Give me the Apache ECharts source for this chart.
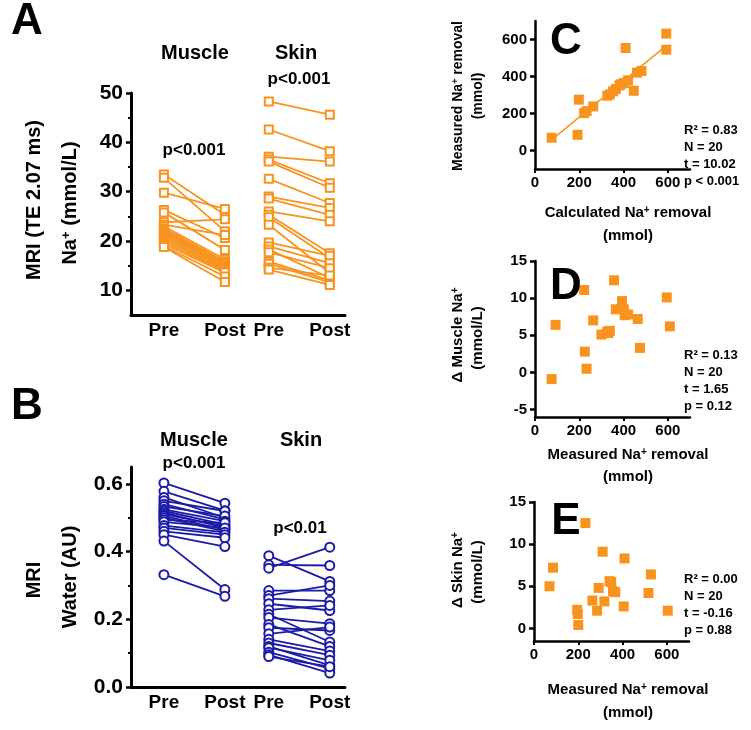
<!DOCTYPE html>
<html><head><meta charset="utf-8">
<script src="https://cdn.jsdelivr.net/npm/echarts@6/dist/echarts.min.js"></script>
<style>html,body{margin:0;padding:0;background:#fff}#c{width:751px;height:730px}</style>
</head><body><div id="c"></div>
<script>
// ---------- DATA ----------
const categories = ['Pre', 'Post', 'Pre', 'Post'];
const groups = ['Muscle', 'Skin'];
const naTicks = [10, 20, 30, 40, 50];
const naMinorTicks = [15, 25, 35, 45];
const waterTicks = [0, 0.2, 0.4, 0.6];
const waterMinorTicks = [0.1, 0.3, 0.5];
const removalTicks = [0, 200, 400, 600];
const removalYTicks = [0, 200, 400, 600];
const deltaMuscleTicks = [-5, 0, 5, 10, 15];
const deltaSkinTicks = [0, 5, 10, 15];

const muscleNaPre  = [33.5, 32.8, 29.8, 26.3, 25.8, 23.8, 23.3, 23.0, 22.6, 22.3, 22.0, 21.7, 21.4, 21.0, 20.6, 20.2, 19.8, 19.4, 19.0, 18.8];
const muscleNaPost = [25.3, 22.0, 26.5, 20.6, 18.2, 24.4, 21.2, 16.3, 15.9, 15.6, 15.4, 15.1, 14.9, 14.7, 14.4, 14.2, 13.9, 13.6, 12.8, 11.7];
const skinNaPre    = [48.3, 42.6, 37.1, 36.5, 36.1, 32.6, 29.0, 28.6, 26.0, 25.3, 24.8, 23.3, 19.7, 18.9, 18.3, 17.7, 15.8, 15.4, 14.6, 14.2];
const skinNaPost   = [45.6, 38.2, 36.1, 31.7, 30.8, 27.7, 26.7, 25.3, 24.0, 17.5, 16.5, 13.5, 17.0, 15.5, 12.5, 14.5, 12.0, 11.6, 13.0, 11.1];

const muscleWaterPre  = [0.603, 0.578, 0.56, 0.55, 0.54, 0.533, 0.525, 0.52, 0.515, 0.51, 0.505, 0.50, 0.494, 0.488, 0.477, 0.47, 0.46, 0.45, 0.431, 0.332];
const muscleWaterPost = [0.543, 0.521, 0.50, 0.52, 0.495, 0.505, 0.49, 0.48, 0.47, 0.475, 0.465, 0.46, 0.485, 0.47, 0.457, 0.45, 0.441, 0.415, 0.288, 0.268];
const skinWaterPre    = [0.388, 0.361, 0.351, 0.285, 0.27, 0.261, 0.246, 0.228, 0.215, 0.205, 0.185, 0.175, 0.157, 0.141, 0.13, 0.12, 0.116, 0.103, 0.095, 0.09];
const skinWaterPost   = [0.312, 0.359, 0.413, 0.285, 0.30, 0.254, 0.226, 0.241, 0.133, 0.187, 0.12, 0.167, 0.177, 0.106, 0.094, 0.064, 0.079, 0.054, 0.041, 0.06];

const calcRemoval  = [75, 192, 198, 222, 233, 263, 327, 338, 353, 365, 382, 387, 401, 420, 409, 446, 461, 481, 593, 593];
const measRemovalC = [69, 85, 275, 202, 213, 238, 296, 303, 320, 332, 352, 358, 365, 379, 554, 323, 421, 430, 545, 632];

const measRemovalD  = [75, 93, 222, 225, 233, 263, 300, 326, 331, 338, 357, 365, 393, 401, 405, 420, 464, 474, 595, 609];
const deltaMuscleNa = [-0.9, 6.4, 11.1, 2.8, 0.5, 7.0, 5.1, 5.5, 5.3, 5.6, 12.4, 8.5, 9.6, 8.5, 7.7, 7.8, 7.2, 3.3, 10.1, 6.2];

const measRemovalE = [70, 86, 232, 310, 409, 292, 341, 349, 357, 367, 264, 318, 405, 528, 517, 195, 198, 200, 285, 604];
const deltaSkinNa  = [5.0, 7.2, 12.5, 9.1, 8.3, 4.8, 5.6, 5.5, 4.4, 4.3, 3.3, 3.2, 2.6, 6.4, 4.2, 2.2, 1.7, 0.4, 2.1, 2.1];

const statsC = ['R² = 0.83', 'N = 20', 't = 10.02', 'p < 0.001'];
const statsD = ['R² = 0.13', 'N = 20', 't = 1.65', 'p = 0.12'];
const statsE = ['R² = 0.00', 'N = 20', 't = -0.16', 'p = 0.88'];
const pValues = { naMuscle: 'p<0.001', naSkin: 'p<0.001', waterMuscle: 'p<0.001', waterSkin: 'p<0.01' };

// ---------- LAYOUT / STYLE ----------
const FONT = '"Liberation Sans", Arial, sans-serif';
const ORANGE = '#f7931e';
const BLUE = '#1b1ba8';
const POS = [0, 1, 1.72, 2.72];   // horizontal placement of the four categories
const X_MIN = -0.54, X_MAX = 2.97;

const grids = [
  { left: 131, top: 93, width: 214, height: 222 },     // A
  { left: 131, top: 467, width: 214, height: 220 },    // B
  { left: 535, top: 21, width: 155, height: 148 },     // C
  { left: 535, top: 261, width: 155, height: 156 },    // D
  { left: 534, top: 502, width: 155, height: 139 }     // E
];

const blackLine = (w) => ({ show: true, onZero: false, lineStyle: { color: '#000', width: w } });
const lbl = (size, extra) => Object.assign({ color: '#000', fontFamily: FONT, fontWeight: 'bold', fontSize: size }, extra || {});

function catLabel(v) {
  for (let i = 0; i < POS.length; i++) if (Math.abs(POS[i] - v) < 0.01) return categories[i];
  return '';
}

function xRemoval(grid) {
  return { type: 'value', gridIndex: grid, min: 0, max: 700, axisLine: blackLine(2.5), splitLine: { show: false },
    axisTick: { customValues: removalTicks, length: 4, lineStyle: { width: 2, color: '#000' } },
    axisLabel: lbl(15, { customValues: removalTicks, margin: 6 }) };
}
const xAxis = [
  { type: 'value', gridIndex: 0, min: X_MIN, max: X_MAX, axisLine: blackLine(3), axisTick: { show: false }, splitLine: { show: false },
    axisLabel: lbl(19, { customValues: POS, formatter: catLabel, margin: 6 }) },
  { type: 'value', gridIndex: 1, min: X_MIN, max: X_MAX, axisLine: blackLine(3), axisTick: { show: false }, splitLine: { show: false },
    axisLabel: lbl(19, { customValues: POS, formatter: catLabel, margin: 6 }) },
  xRemoval(2), xRemoval(3), xRemoval(4)
];

function yMajor(grid, min, max, ticks, size, w, fmt) {
  return { type: 'value', gridIndex: grid, position: 'left', min: min, max: max, axisLine: blackLine(w), splitLine: { show: false },
    axisTick: { customValues: ticks, length: 5, lineStyle: { width: 2.5, color: '#000' } },
    axisLabel: lbl(size, { customValues: ticks, margin: 8, formatter: fmt }) };
}
function yMinor(grid, min, max, ticks) {
  return { type: 'value', gridIndex: grid, position: 'left', offset: 0, min: min, max: max,
    axisLine: { show: false, onZero: false }, splitLine: { show: false },
    axisTick: { customValues: ticks, length: 3, lineStyle: { width: 2, color: '#000' } }, axisLabel: { show: false } };
}

const yAxis = [
  yMajor(0, 5, 50, naTicks, 21, 3),
  yMinor(0, 5, 50, naMinorTicks),
  yMajor(1, 0, 0.65, waterTicks, 21, 3, v => v.toFixed(1)),
  yMinor(1, 0, 0.65, waterMinorTicks),
  yMajor(2, -100, 700, removalYTicks, 15, 2.5),
  yMajor(3, -6, 15, deltaMuscleTicks, 15, 2.5),
  yMajor(4, -1.5, 15, deltaSkinTicks, 15, 2.5)
];

const series = [];
function paired(xi, yi, pre, post, offset, color, symbol, size) {
  const pts = [];
  for (let i = 0; i < pre.length; i++) {
    series.push({ type: 'line', xAxisIndex: xi, yAxisIndex: yi, symbol: 'none', silent: true, z: 2,
      lineStyle: { color: color, width: 1.8 },
      data: [[POS[offset], pre[i]], [POS[offset + 1], post[i]]] });
    pts.push([POS[offset], pre[i]], [POS[offset + 1], post[i]]);
  }
  series.push({ type: 'scatter', xAxisIndex: xi, yAxisIndex: yi, symbol: symbol, symbolSize: size, z: 5,
    itemStyle: { color: '#fff', borderColor: color, borderWidth: 2, opacity: 1 }, data: pts });
}
paired(0, 0, muscleNaPre, muscleNaPost, 0, ORANGE, 'rect', 8);
paired(0, 0, skinNaPre, skinNaPost, 2, ORANGE, 'rect', 8);
paired(1, 2, muscleWaterPre, muscleWaterPost, 0, BLUE, 'circle', 9);
paired(1, 2, skinWaterPre, skinWaterPost, 2, BLUE, 'circle', 9);

function zip(a, b) { return a.map((v, i) => [v, b[i]]); }
function scatter(xi, yi, xs, ys) {
  series.push({ type: 'scatter', xAxisIndex: xi, yAxisIndex: yi, symbol: 'rect', symbolSize: 10, z: 5,
    itemStyle: { color: ORANGE, opacity: 1 }, data: zip(xs, ys) });
}
scatter(2, 4, calcRemoval, measRemovalC);
scatter(3, 5, measRemovalD, deltaMuscleNa);
scatter(4, 6, measRemovalE, deltaSkinNa);

// least-squares fit line for panel C
(function () {
  const n = calcRemoval.length;
  const mx = calcRemoval.reduce((a, b) => a + b, 0) / n;
  const my = measRemovalC.reduce((a, b) => a + b, 0) / n;
  let sxy = 0, sxx = 0;
  for (let i = 0; i < n; i++) { sxy += (calcRemoval[i] - mx) * (measRemovalC[i] - my); sxx += (calcRemoval[i] - mx) ** 2; }
  const b = sxy / sxx, a = my - b * mx;
  const x0 = Math.min(...calcRemoval), x1 = Math.max(...calcRemoval);
  series.push({ type: 'line', xAxisIndex: 2, yAxisIndex: 4, symbol: 'none', silent: true, z: 3,
    lineStyle: { color: ORANGE, width: 1.5 }, data: [[x0, a + b * x0], [x1, a + b * x1]] });
})();

// ---------- TEXT ----------
const g = [];
function txt(x, y, text, size, opts) {
  opts = opts || {};
  g.push({ type: 'text', x: x, y: y, rotation: opts.rot || 0, z: 10,
    style: { text: text, fontSize: size, fontWeight: 'bold', fontFamily: FONT, fill: '#000',
      align: opts.align || 'center', verticalAlign: 'middle',
      rich: { sup: { fontSize: Math.round(size * 0.65), fontWeight: 'bold', fontFamily: FONT, fill: '#000', verticalAlign: 'top' },
              n: { fontSize: size, fontWeight: 'bold', fontFamily: FONT, fill: '#000' } } } });
}
const ROT = Math.PI / 2;
// panel letters
txt(27, 22, 'A', 44); txt(27, 407, 'B', 44); txt(566, 42, 'C', 44); txt(566, 287, 'D', 44); txt(566, 522, 'E', 44);
// headings
txt(195, 53, groups[0], 20); txt(296, 53, groups[1], 20);
txt(194, 440, groups[0], 20); txt(301, 440, groups[1], 20);
// p-values
txt(194, 150, pValues.naMuscle, 17); txt(299, 79, pValues.naSkin, 17);
txt(194, 463, pValues.waterMuscle, 17); txt(300, 528, pValues.waterSkin, 17);
// A / B axis names
txt(34, 200, 'MRI (TE 2.07 ms)', 20, { rot: ROT });
txt(70, 203, '{n|Na}{sup|+}{n| (mmol/L)}', 20, { rot: ROT });
txt(34, 580, 'MRI', 20, { rot: ROT });
txt(70, 577, 'Water (AU)', 20, { rot: ROT });
// C / D / E axis names
txt(458, 96, '{n|Measured Na}{sup|+}{n| removal}', 14, { rot: ROT });
txt(478, 96, '(mmol)', 14, { rot: ROT });
txt(628, 213, '{n|Calculated Na}{sup|+}{n| removal}', 15);
txt(628, 236, '(mmol)', 15);
txt(458, 335, '{n|Δ Muscle Na}{sup|+}', 15, { rot: ROT });
txt(478, 338, '(mmol/L)', 15, { rot: ROT });
txt(628, 455, '{n|Measured Na}{sup|+}{n| removal}', 15);
txt(628, 477, '(mmol)', 15);
txt(458, 570, '{n|Δ Skin Na}{sup|+}', 15, { rot: ROT });
txt(478, 572, '(mmol/L)', 15, { rot: ROT });
txt(628, 690, '{n|Measured Na}{sup|+}{n| removal}', 15);
txt(628, 713, '(mmol)', 15);
// stats
[[statsC, 130], [statsD, 355], [statsE, 579]].forEach(([s, y0]) => {
  s.forEach((t, i) => txt(684, y0 + i * 17.3, t, 13, { align: 'left' }));
});

const chart = echarts.init(document.getElementById('c'), null, { renderer: 'canvas' });
chart.setOption({
  animation: false,
  backgroundColor: '#fff',
  grid: grids,
  xAxis: xAxis,
  yAxis: yAxis,
  series: series,
  graphic: g
});
</script></body></html>
